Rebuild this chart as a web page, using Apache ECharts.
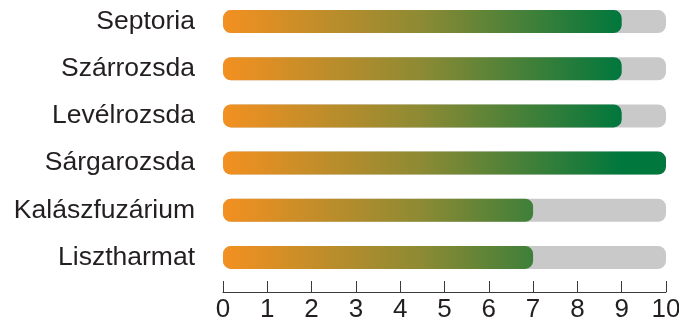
<!DOCTYPE html>
<html>
<head>
<meta charset="utf-8">
<script src="https://cdn.jsdelivr.net/npm/echarts@6/dist/echarts.min.js"></script>
<style>
  html, body { margin: 0; padding: 0; background: #fff; }
  #chart { width: 679px; height: 318px; }
</style>
</head>
<body>
<div id="chart"></div>
<script>
var categories = ['Septoria', 'Szárrozsda', 'Levélrozsda', 'Sárgarozsda', 'Kalászfuzárium', 'Lisztharmat'];
var values = [9, 9, 9, 10, 7, 7];
var tickLabels = ['0', '1', '2', '3', '4', '5', '6', '7', '8', '9', '10'];

var myChart = echarts.init(document.getElementById('chart'));

// gradient runs across the plot, not per bar
var barColor = {
    type: 'linear',
    x: 223, y: 0, x2: 622, y2: 0,
    global: true,
    colorStops: [
        { offset: 0, color: '#f39020' },
        { offset: 0.5, color: '#8c8a34' },
        { offset: 1, color: '#00773d' }
    ]
};

var option = {
    animation: false,
    grid: {
        left: 223,
        right: 13,
        top: -2,
        bottom: 37,
        outerBoundsMode: 'none'
    },
    xAxis: {
        type: 'value',
        min: 0,
        max: 10,
        interval: 1,
        offset: 11,
        axisLine: {
            show: true,
            lineStyle: { color: '#3a3a3a', width: 1 }
        },
        axisTick: {
            show: true,
            inside: true,
            length: 11,
            lineStyle: { color: '#3a3a3a', width: 1 }
        },
        splitLine: { show: false },
        axisLabel: {
            margin: 5,
            color: '#231f20',
            fontFamily: 'Liberation Sans',
            fontSize: 26,
            formatter: function (v) { return tickLabels[v]; }
        }
    },
    yAxis: {
        type: 'category',
        inverse: true,
        data: categories,
        axisLine: { show: false },
        axisTick: { show: false },
        axisLabel: {
            margin: 28,
            color: '#231f20',
            fontFamily: 'Liberation Sans',
            fontSize: 26.5
        }
    },
    series: [{
        type: 'bar',
        barWidth: 23,
        data: values,
        itemStyle: {
            color: barColor,
            borderRadius: 8
        },
        showBackground: true,
        backgroundStyle: {
            color: '#c9c9c9',
            borderRadius: 8
        }
    }]
};

myChart.setOption(option);
</script>
</body>
</html>
